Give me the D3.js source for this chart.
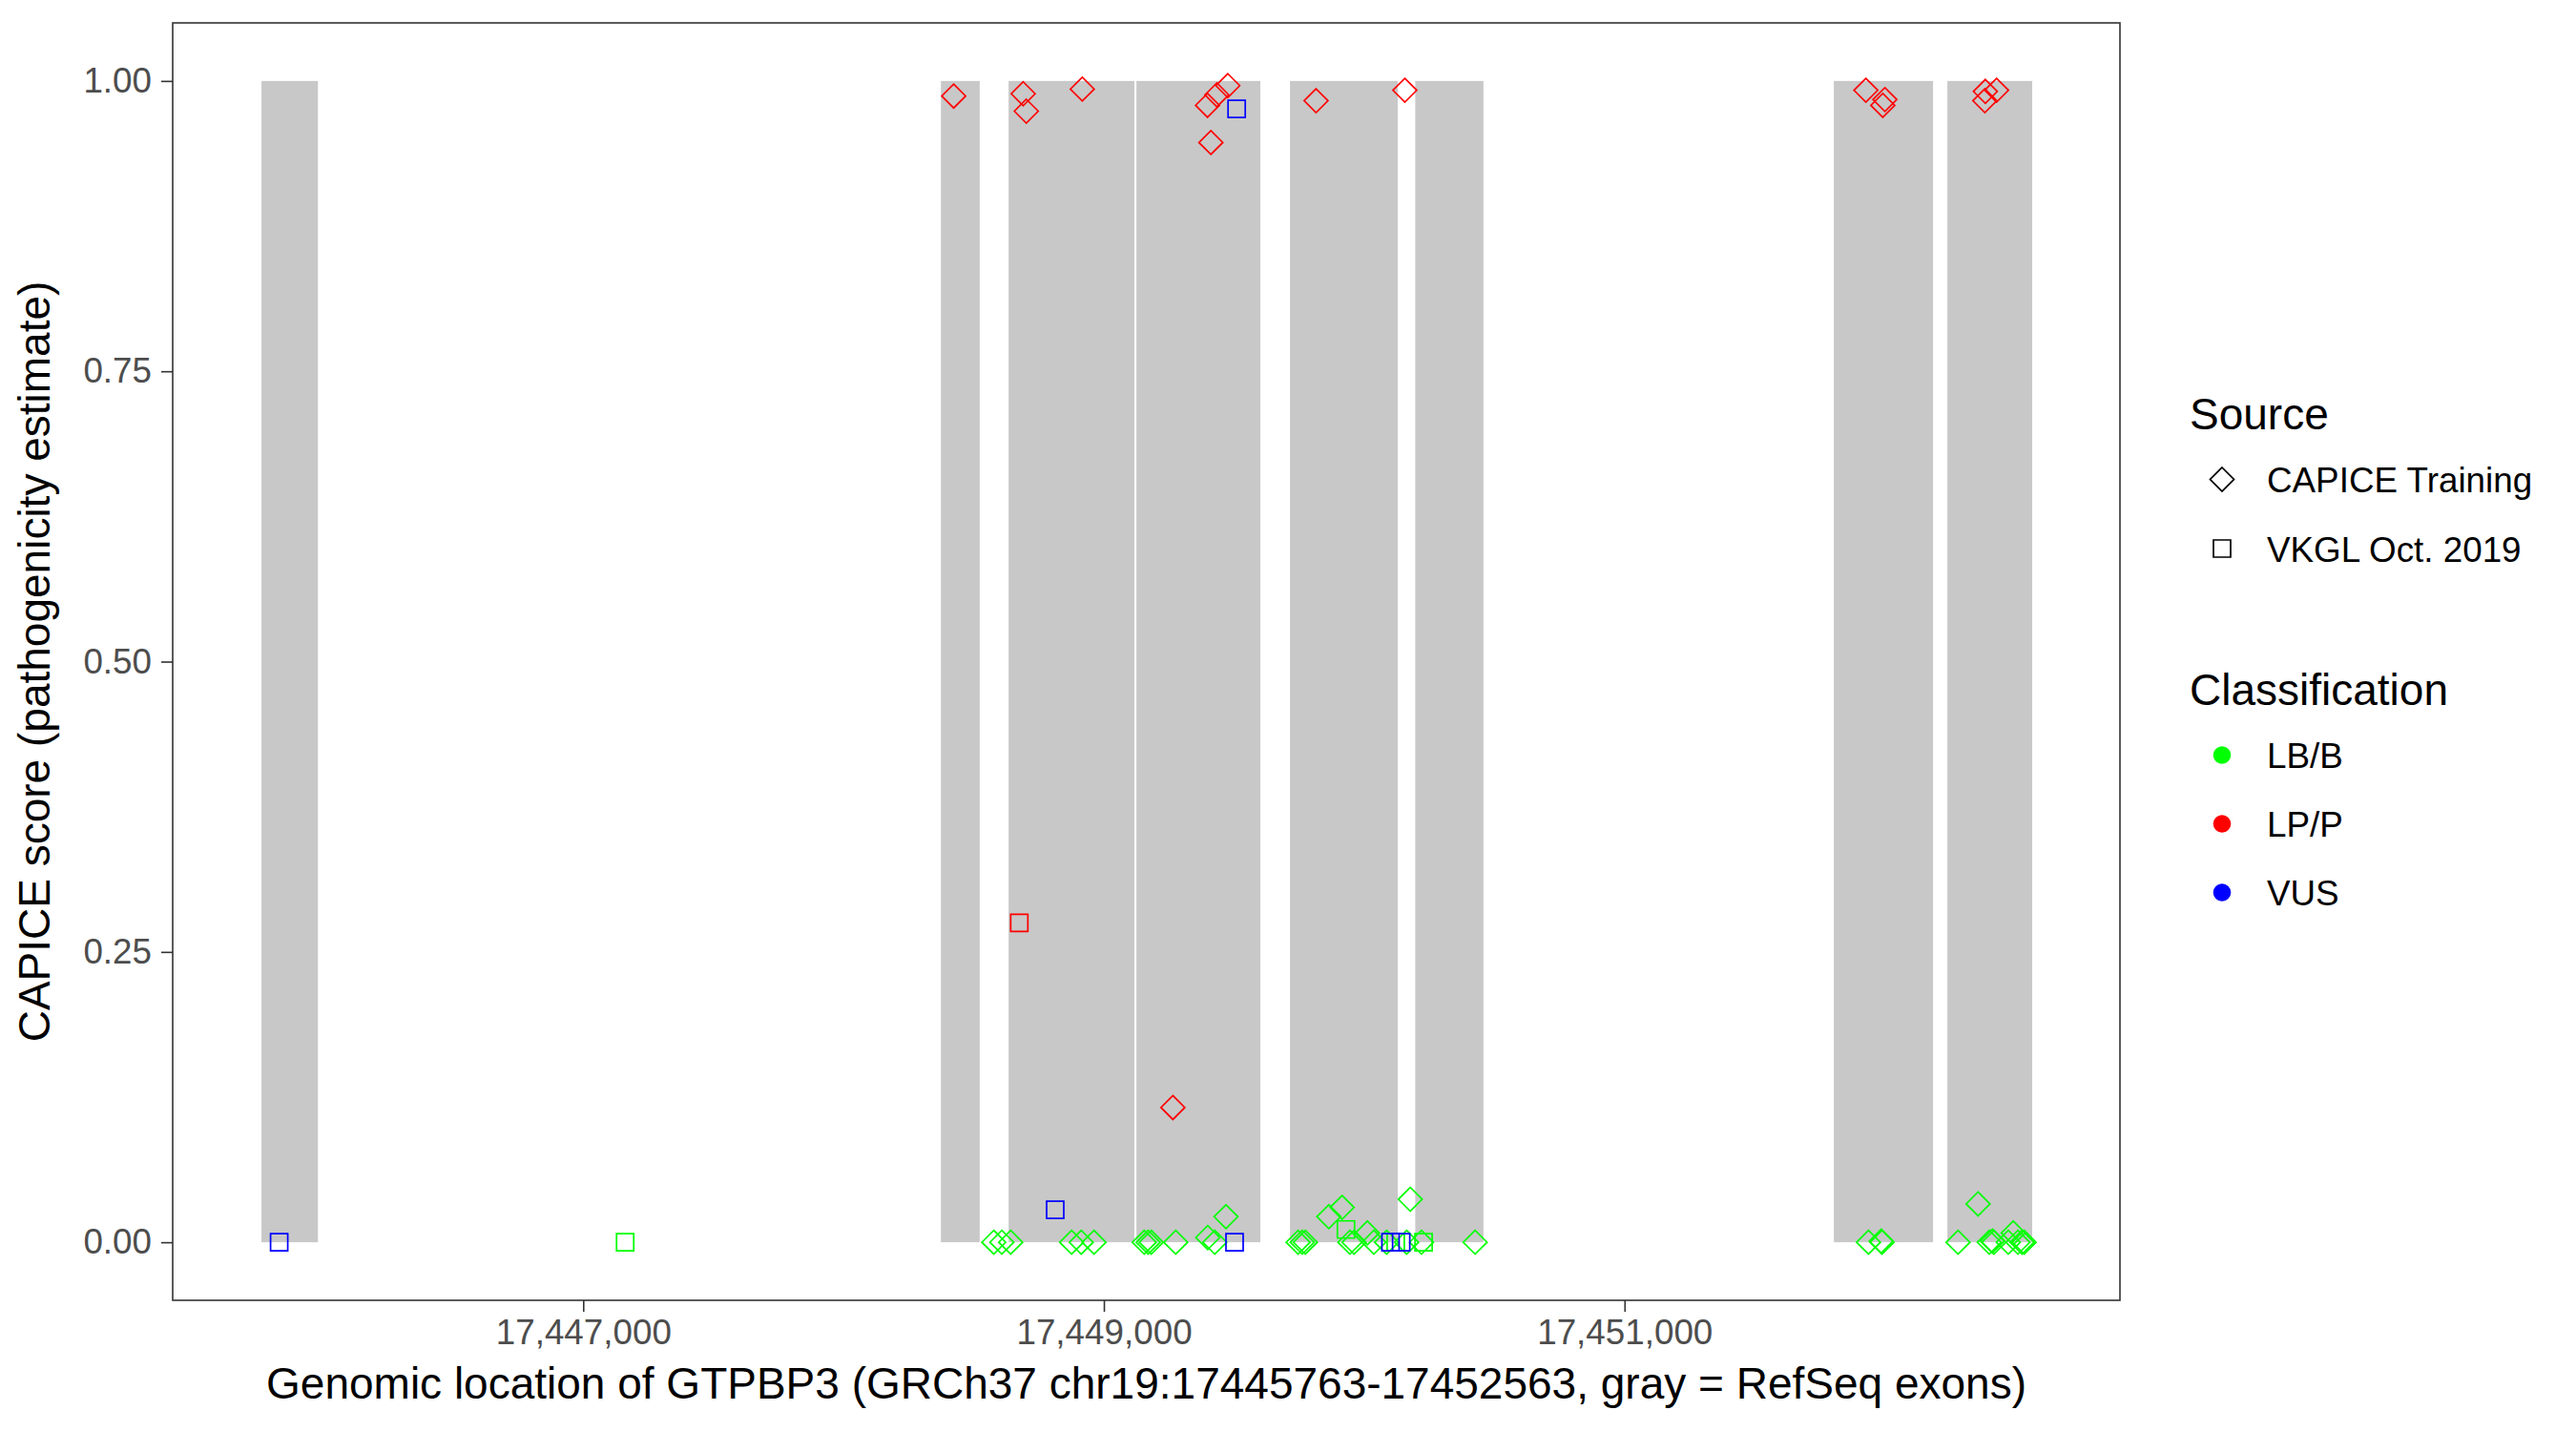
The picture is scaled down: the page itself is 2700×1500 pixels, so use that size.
<!DOCTYPE html>
<html>
<head>
<meta charset="utf-8">
<script src="https://cdn.jsdelivr.net/npm/d3@7"></script>
<style>
  html, body { margin: 0; padding: 0; background: #ffffff; }
  svg { display: block; font-family: "Liberation Sans", Arial, Helvetica, sans-serif; }
</style>
</head>
<body>
<script>
// ---------------- data ----------------
const geneStart = 17445763;
const geneEnd = 17452563;

const exonStart = [17445764, 17448374, 17448634, 17449125, 17449715, 17450196, 17451804, 17452240];
const exonEnd   = [17445981, 17448523, 17449117, 17449601, 17450129, 17450458, 17452185, 17452566];

const xTicks = [17447000, 17449000, 17451000];
const yTicks = [0, 0.25, 0.5, 0.75, 1];
const yTickLabels = ["0.00", "0.25", "0.50", "0.75", "1.00"];

const sourceNames = ["CAPICE Training", "VKGL Oct. 2019"];
const classNames = ["LB/B", "LP/P", "VUS"];
const classColors = ["#00FF00", "#FF0000", "#0000FF"];

// variants: position, score, source (0 = CAPICE Training, 1 = VKGL), class (0 LB/B, 1 LP/P, 2 VUS)
const varPos = [
  // LP/P CAPICE
  17448423, 17448690, 17448702, 17448917, 17449398, 17449434, 17449476, 17449411,
  17449815, 17450156, 17449265, 17451927, 17452000, 17451992, 17452386, 17452429, 17452384,
  // LP/P VKGL
  17448675,
  // LB/B CAPICE
  17448577, 17448608, 17448642, 17448876, 17448913, 17448962, 17449155, 17449170,
  17449182, 17449276, 17449399, 17449426, 17449469, 17449746, 17449762, 17449774,
  17449864, 17449915, 17449945, 17449961, 17450012, 17450037, 17450086, 17450163,
  17450177, 17450220, 17450426, 17451937, 17451986, 17451989, 17452281, 17452358,
  17452401, 17452413, 17452419, 17452474, 17452493, 17452511, 17452527, 17452535,
  // LB/B VKGL
  17447161, 17449930, 17450228, 17450121,
  // VUS VKGL
  17445832, 17448813, 17449510, 17449502, 17450101, 17450142
];
const varScore = [
  0.987, 0.989, 0.974, 0.993, 0.979, 0.988, 0.996, 0.947,
  0.983, 0.992, 0.116, 0.992, 0.984, 0.979, 0.991, 0.992, 0.983,
  0.275,
  0, 0, 0, 0, 0, 0, 0, 0,
  0, 0, 0.004, 0, 0.022, 0, 0, 0,
  0.022, 0.030, 0, 0, 0.008, 0, 0, 0,
  0.037, 0, 0, 0, 0.001, 0, 0, 0.033,
  0, 0.001, 0, 0, 0.008, 0, 0, 0,
  0, 0.011, 0, 0,
  0, 0.028, 0.976, 0, 0, 0
];
const varSource = [
  0,0,0,0,0,0,0,0, 0,0,0,0,0,0,0,0,0,
  1,
  0,0,0,0,0,0,0,0, 0,0,0,0,0,0,0,0, 0,0,0,0,0,0,0,0, 0,0,0,0,0,0,0,0, 0,0,0,0,0,0,0,0,
  1,1,1,1,
  1,1,1,1,1,1
];
const varClass = [
  1,1,1,1,1,1,1,1, 1,1,1,1,1,1,1,1,1,
  1,
  0,0,0,0,0,0,0,0, 0,0,0,0,0,0,0,0, 0,0,0,0,0,0,0,0, 0,0,0,0,0,0,0,0, 0,0,0,0,0,0,0,0,
  0,0,0,0,
  2,2,2,2,2,2
];

// ---------------- layout ----------------
const W = 2700, H = 1500;
const panel = { left: 181, right: 2222, top: 24, bottom: 1363 };
const baseSize = 46, smallSize = 36.8;

const svg = d3.select("body").append("svg").attr("width", W).attr("height", H);
svg.append("rect").attr("width", W).attr("height", H).attr("fill", "#ffffff");

const pad = (geneEnd - geneStart) * 0.05;
const x = d3.scaleLinear().domain([geneStart - pad, geneEnd + pad]).range([panel.left, panel.right]);
const y = d3.scaleLinear().domain([-0.05, 1.05]).range([panel.bottom, panel.top]);

// exons
svg.append("g").selectAll("rect").data(exonStart.map((s, i) => ({ s, e: exonEnd[i] })))
  .join("rect")
  .attr("x", d => x(d.s))
  .attr("width", d => x(d.e) - x(d.s))
  .attr("y", y(1))
  .attr("height", y(0) - y(1))
  .attr("fill", "#C8C8C8");

// point symbols
const diamondPath = r => `M0,${-r}L${r},0L0,${r}L${-r},0Z`;
const squarePath = s => `M${-s/2},${-s/2}H${s/2}V${s/2}H${-s/2}Z`;
const shapePath = src => src === 0 ? diamondPath(12.5) : squarePath(18);

const pts = varPos.map((p, i) => ({ p, s: varScore[i], src: varSource[i], cls: varClass[i] }));
svg.append("g").selectAll("path").data(pts).join("path")
  .attr("transform", d => `translate(${x(d.p)},${y(d.s)})`)
  .attr("d", d => shapePath(d.src))
  .attr("fill", "none")
  .attr("stroke", d => classColors[d.cls])
  .attr("stroke-width", 1.7);

// panel border
svg.append("rect")
  .attr("x", panel.left).attr("y", panel.top)
  .attr("width", panel.right - panel.left).attr("height", panel.bottom - panel.top)
  .attr("fill", "none").attr("stroke", "#333333").attr("stroke-width", 1.6);

// axes
const fmt = d3.format(",");
const xAxis = d3.axisBottom(x).tickValues(xTicks).tickFormat(fmt).tickSize(12).tickPadding(8);
const gx = svg.append("g").attr("transform", `translate(0,${panel.bottom})`).call(xAxis);
gx.select(".domain").remove();
gx.selectAll(".tick line").attr("stroke", "#333333").attr("stroke-width", 1.6);
gx.selectAll(".tick text").attr("fill", "#4D4D4D").style("font-size", smallSize + "px")
  .style("font-family", "Liberation Sans, Arial, sans-serif");

const yAxis = d3.axisLeft(y).tickValues(yTicks).tickFormat((d, i) => yTickLabels[i]).tickSize(12).tickPadding(10);
const gy = svg.append("g").attr("transform", `translate(${panel.left},0)`).call(yAxis);
gy.select(".domain").remove();
gy.selectAll(".tick line").attr("stroke", "#333333").attr("stroke-width", 1.6);
gy.selectAll(".tick text").attr("fill", "#4D4D4D").style("font-size", smallSize + "px")
  .style("font-family", "Liberation Sans, Arial, sans-serif");

// axis titles
svg.append("text")
  .attr("x", (panel.left + panel.right) / 2).attr("y", 1466)
  .attr("text-anchor", "middle").attr("fill", "#000").style("font-size", baseSize + "px")
  .text("Genomic location of GTPBP3 (GRCh37 chr19:17445763-17452563, gray = RefSeq exons)");

svg.append("text")
  .attr("transform", `translate(52,${(panel.top + panel.bottom) / 2}) rotate(-90)`)
  .attr("text-anchor", "middle").attr("fill", "#000").style("font-size", baseSize + "px")
  .text("CAPICE score (pathogenicity estimate)");

// legends
const lg = svg.append("g");
lg.append("text").attr("x", 2295).attr("y", 450).style("font-size", baseSize + "px").attr("fill", "#000").text("Source");
sourceNames.forEach((name, i) => {
  const cy = 502.5 + i * 72.5;
  lg.append("path").attr("transform", `translate(2329,${cy})`).attr("d", shapePath(i))
    .attr("fill", "none").attr("stroke", "#000").attr("stroke-width", 1.7);
  lg.append("text").attr("x", 2376).attr("y", cy + 13.5).style("font-size", smallSize + "px").attr("fill", "#000").text(name);
});

lg.append("text").attr("x", 2295).attr("y", 739).style("font-size", baseSize + "px").attr("fill", "#000").text("Classification");
classNames.forEach((name, i) => {
  const cy = 791.5 + i * 72;
  lg.append("circle").attr("cx", 2329).attr("cy", cy).attr("r", 9.3).attr("fill", classColors[i]);
  lg.append("text").attr("x", 2376).attr("y", cy + 13.5).style("font-size", smallSize + "px").attr("fill", "#000").text(name);
});
</script>
</body>
</html>
